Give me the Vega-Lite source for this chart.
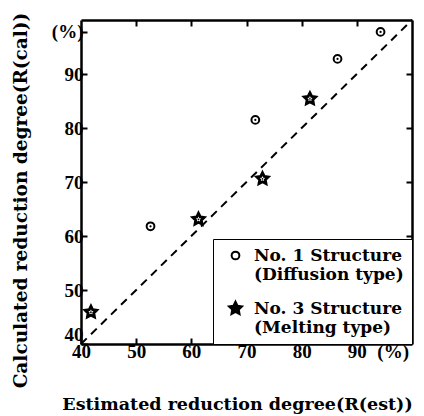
{
  "$schema": "https://vega.github.io/schema/vega-lite/v6.json",
  "width": 331,
  "height": 324,
  "autosize": {"type": "none"},
  "padding": {"left": 81, "top": 20, "right": 12, "bottom": 72},
  "background": "white",
  "data": {
    "values": [
      {"est": 52.6, "cal": 61.8, "type": "No. 1 Structure (Diffusion type)"},
      {"est": 71.6, "cal": 81.5, "type": "No. 1 Structure (Diffusion type)"},
      {"est": 86.5, "cal": 92.8, "type": "No. 1 Structure (Diffusion type)"},
      {"est": 94.3, "cal": 97.8, "type": "No. 1 Structure (Diffusion type)"},
      {"est": 41.8, "cal": 45.9, "type": "No. 3 Structure (Melting type)"},
      {"est": 61.3, "cal": 63.1, "type": "No. 3 Structure (Melting type)"},
      {"est": 72.9, "cal": 70.6, "type": "No. 3 Structure (Melting type)"},
      {"est": 81.5, "cal": 85.4, "type": "No. 3 Structure (Melting type)"}
    ]
  },
  "config": {
    "view": {"stroke": null},
    "axis": {
      "grid": false,
      "domainColor": "black",
      "domainWidth": 2.5,
      "tickColor": "black",
      "tickWidth": 2,
      "tickSize": -6,
      "labelFont": "Liberation Serif",
      "labelFontWeight": "bold",
      "labelFontSize": 19,
      "labelColor": "black",
      "titleFont": "DejaVu Serif",
      "titleFontWeight": "bold",
      "titleFontSize": 17.5,
      "titleColor": "black"
    },
    "legend": {
      "orient": "bottom-right",
      "offset": 0,
      "strokeColor": "black",
      "fillColor": "white",
      "padding": 8,
      "rowPadding": 14,
      "symbolOffset": 6,
      "labelOffset": 10,
      "labelFont": "DejaVu Serif",
      "labelFontWeight": "bold",
      "labelFontSize": 17,
      "labelColor": "black",
      "labelLimit": 400,
      "symbolStrokeColor": "black",
      "symbolStrokeWidth": 2,
      "symbolOpacity": 1
    }
  },
  "layer": [
    {
      "data": {"values": [{}]},
      "mark": {"type": "rule", "strokeDash": [8, 6], "strokeWidth": 2, "color": "black"},
      "encoding": {
        "x": {"datum": 40, "type": "quantitative", "scale": {"domain": [40, 100], "nice": false, "zero": false},
          "axis": {"orient": "top", "values": [50, 60, 70, 80, 90], "labels": false, "title": null}},
        "y": {"datum": 40, "type": "quantitative", "scale": {"domain": [40, 100], "nice": false, "zero": false},
          "axis": {"orient": "right", "values": [50, 60, 70, 80, 90], "labels": false, "title": null}},
        "x2": {"datum": 100},
        "y2": {"datum": 100}
      }
    },
    {
      "mark": {"type": "point", "filled": true, "strokeWidth": 2, "opacity": 1},
      "encoding": {
        "x": {"field": "est", "type": "quantitative",
          "axis": {"orient": "bottom", "values": [40, 50, 60, 70, 80, 90, 96.5],
            "labelExpr": "datum.value > 95 ? '(%)' : datum.label",
            "labelFlush": false,
            "labelPadding": 4,
            "title": "Estimated reduction degree(R(est))",
            "titleX": 156, "titleY": 65, "titleAlign": "center", "titleBaseline": "alphabetic"}},
        "y": {"field": "cal", "type": "quantitative",
          "axis": {"orient": "left", "values": [40, 50, 60, 70, 80, 90, 97.8],
            "labelExpr": "datum.value > 95 ? '(%)' : datum.label",
            "labelFlush": true,
            "labelPadding": 4,
            "title": "Calculated reduction degree(R(cal))",
            "titleFontSize": 18.5,
            "titleX": -55, "titleY": 180, "titleAngle": -90, "titleAlign": "center", "titleBaseline": "alphabetic"}},
        "shape": {"field": "type", "type": "nominal", "title": null,
          "scale": {"domain": ["No. 1 Structure (Diffusion type)", "No. 3 Structure (Melting type)"],
            "range": ["circle", "M0,-1L0.294,-0.405L0.951,-0.309L0.476,0.155L0.588,0.809L0,0.5L-0.588,0.809L-0.476,0.155L-0.951,-0.309L-0.294,-0.405Z"]},
          "legend": {
            "labelExpr": "indexof(datum.label, 'No. 1') >= 0 ? ['No. 1 Structure', '(Diffusion type)'] : ['No. 3 Structure', '(Melting type)']"
          }},
        "fill": {"field": "type", "type": "nominal", "title": null,
          "scale": {"domain": ["No. 1 Structure (Diffusion type)", "No. 3 Structure (Melting type)"], "range": ["white", "black"]}},
        "stroke": {"field": "type", "type": "nominal", "title": null,
          "scale": {"domain": ["No. 1 Structure (Diffusion type)", "No. 3 Structure (Melting type)"], "range": ["black", "black"]}},
        "size": {"field": "type", "type": "nominal", "title": null,
          "scale": {"domain": ["No. 1 Structure (Diffusion type)", "No. 3 Structure (Melting type)"], "range": [60, 190]}}
      }
    },
    {
      "transform": [{"filter": "indexof(datum.type, 'No. 1') >= 0"}],
      "mark": {"type": "point", "filled": true, "color": "black", "size": 5, "shape": "circle", "opacity": 1},
      "encoding": {
        "x": {"field": "est", "type": "quantitative", "axis": null},
        "y": {"field": "cal", "type": "quantitative", "axis": null}
      }
    },
    {
      "transform": [{"filter": "indexof(datum.type, 'No. 3') >= 0"}],
      "mark": {"type": "point", "filled": true, "color": "white", "size": 30, "opacity": 1,
        "shape": "M0,-1L0.294,-0.405L0.951,-0.309L0.476,0.155L0.588,0.809L0,0.5L-0.588,0.809L-0.476,0.155L-0.951,-0.309L-0.294,-0.405Z"},
      "encoding": {
        "x": {"field": "est", "type": "quantitative", "axis": null},
        "y": {"field": "cal", "type": "quantitative", "axis": null}
      }
    },
    {
      "transform": [{"filter": "indexof(datum.type, 'No. 3') >= 0"}],
      "mark": {"type": "point", "filled": true, "color": "black", "size": 3, "shape": "circle", "opacity": 1},
      "encoding": {
        "x": {"field": "est", "type": "quantitative", "axis": null},
        "y": {"field": "cal", "type": "quantitative", "axis": null}
      }
    }
  ],
  "resolve": {"axis": {"x": "independent", "y": "independent"}}
}
